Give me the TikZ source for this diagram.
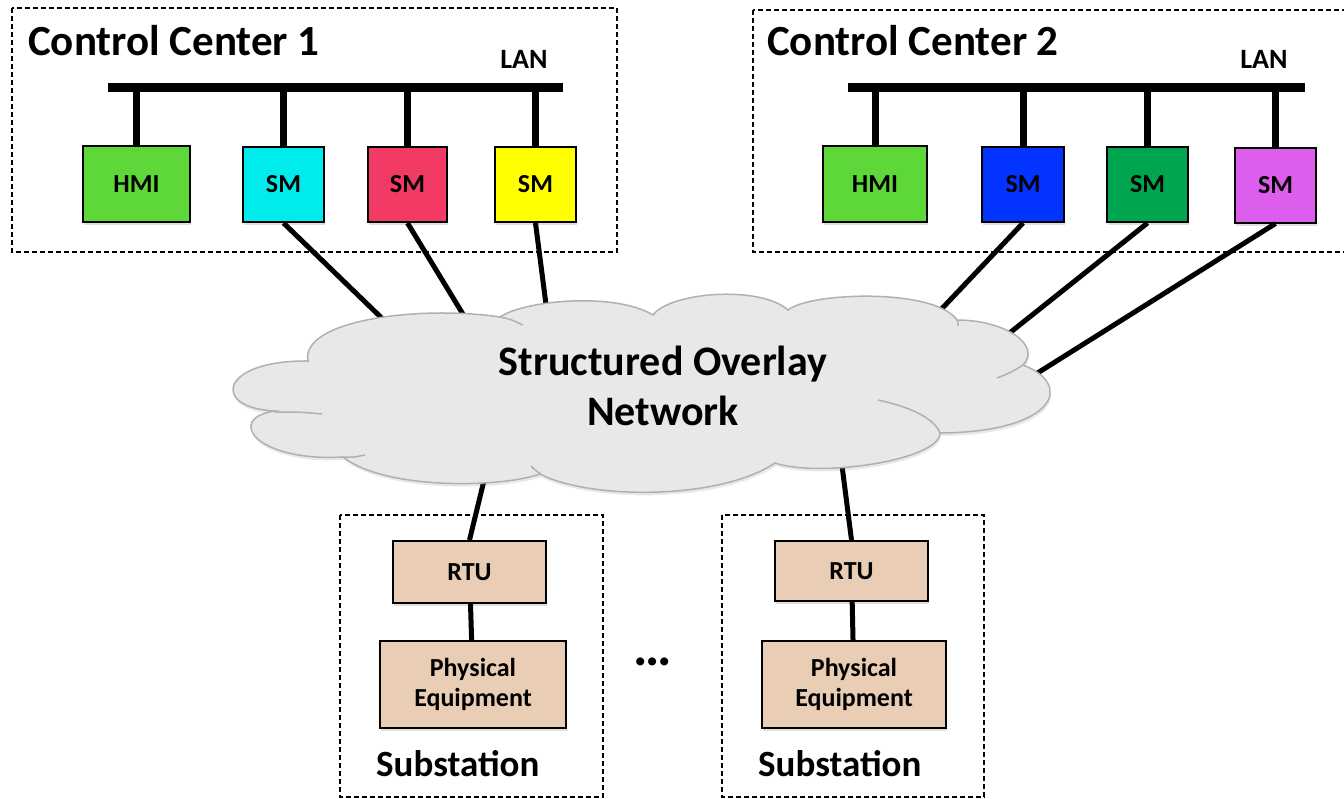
\documentclass[tikz,border=0pt]{standalone}
\usepackage{fontspec}
\setmainfont{Carlito}
\usetikzlibrary{shadows}
\definecolor{hmigreen}{RGB}{94,216,56}
\definecolor{smcyan}{RGB}{0,236,236}
\definecolor{smred}{RGB}{242,58,100}
\definecolor{smyellow}{RGB}{255,255,0}
\definecolor{smblue}{RGB}{3,51,255}
\definecolor{smgreen}{RGB}{0,166,79}
\definecolor{smmagenta}{RGB}{221,93,237}
\definecolor{beige}{RGB}{233,205,180}
\definecolor{cloudfill}{RGB}{232,232,232}
\definecolor{cloudedge}{RGB}{176,176,176}
\begin{document}
\begin{tikzpicture}[x=1pt,y=-1pt,
  devbox/.style={draw=black, line width=2pt, rectangle, inner sep=0pt,
    font=\fontsize{26}{30}\selectfont\bfseries, align=center,
    drop shadow={shadow xshift=1pt, shadow yshift=-3pt, opacity=0.25}},
  groupbox/.style={draw=black, line width=1.5pt, dash pattern=on 5pt off 3pt},
  bus/.style={line width=9pt},
  busdrop/.style={line width=7pt},
  link/.style={line width=5pt},
  cloudline/.style={draw=cloudedge, line width=1.5pt},
  title/.style={font=\fontsize{43}{48}\selectfont\bfseries, inner sep=0pt},
  lanlabel/.style={font=\fontsize{28}{32}\selectfont\bfseries, inner sep=0pt},
  sublabel/.style={font=\fontsize{37}{42}\selectfont\bfseries, inner sep=0pt},
]
\useasboundingbox (0,0) rectangle (1344,798);

% dashed group outlines
\draw[groupbox] (12,8) rectangle (617,252);
\draw[groupbox] (753,10) rectangle (1360,252);
\draw[groupbox] (340,515) rectangle (603,797);
\draw[groupbox] (722,515) rectangle (984,797);

% group titles
\node[title, anchor=base west] (cc1) at (28,55) {Control Center 1};
\node[title, anchor=base west] (cc2) at (767,55) {Control Center 2};
\node[lanlabel, anchor=base] (lan1) at (524,68) {LAN};
\node[lanlabel, anchor=base] (lan2) at (1264,68) {LAN};

% LAN buses
\coordinate (busAl) at (108,87);
\coordinate (busAr) at (563,87);
\coordinate (busBl) at (848,87);
\coordinate (busBr) at (1305,87);
\draw[bus] (busAl) -- (busAr);
\draw[bus] (busBl) -- (busBr);

% control center devices
\node[devbox, fill=hmigreen, minimum width=107, minimum height=76] (hmiA) at (136.5,184) {HMI};
\node[devbox, fill=smcyan, minimum width=81, minimum height=75] (smA) at (283.5,184.5) {SM};
\node[devbox, fill=smred, minimum width=79, minimum height=75] (smB) at (407.5,184.5) {SM};
\node[devbox, fill=smyellow, minimum width=81, minimum height=75] (smC) at (535.5,184.5) {SM};
\node[devbox, fill=hmigreen, minimum width=104, minimum height=76] (hmiB) at (875,184) {HMI};
\node[devbox, fill=smblue, minimum width=82, minimum height=75] (smD) at (1023,184.5) {SM};
\node[devbox, fill=smgreen, minimum width=81, minimum height=75] (smE) at (1147.5,184.5) {SM};
\node[devbox, fill=smmagenta, minimum width=81, minimum height=75] (smF) at (1275.5,185) {SM};

% drops from the buses
\foreach \n in {hmiA,smA,smB,smC}
  \draw[busdrop] (\n.north) -- (\n.north |- busAl);
\foreach \n in {hmiB,smD,smE,smF}
  \draw[busdrop] (\n.north) -- (\n.north |- busBl);

% substation devices
\node[devbox, fill=beige, minimum width=153, minimum height=62] (rtuA) at (469.5,572) {RTU};
\node[devbox, fill=beige, minimum width=186, minimum height=87] (peA) at (473,684.5) {Physical\\Equipment};
\node[devbox, fill=beige, minimum width=153, minimum height=60] (rtuB) at (851.5,571) {RTU};
\node[devbox, fill=beige, minimum width=184, minimum height=87] (peB) at (854,684.5) {Physical\\Equipment};
\draw[link] (rtuA) -- (peA);
\draw[link] (rtuB) -- (peB);

% links into the overlay (ends tucked under the cloud)
\coordinate (inA) at (392,328);
\coordinate (inB) at (472,329);
\coordinate (inC) at (548,320);
\coordinate (inD) at (933,318);
\coordinate (inE) at (997,343);
\coordinate (inF) at (1020,384);
\coordinate (outA) at (489,460);
\coordinate (outB) at (840,450);
\draw[link] (smA.south) -- (inA);
\draw[link] (smB.south) -- (inB);
\draw[link] (smC.south) -- (inC);
\draw[link] (smD.south) -- (inD);
\draw[link] (smE.south) -- (inE);
\draw[link] (smF.south) -- (inF);
\draw[link] (outA) -- (rtuA.north);
\draw[link] (outB) -- (rtuB.north);

% overlay cloud: outline of lobes, clockwise from the upper left
\path[cloudline, fill=cloudfill,
      drop shadow={shadow xshift=1pt, shadow yshift=-3pt, opacity=0.18}]
  (308,361) .. controls (300,320) and (420,305) .. (500,317)
            .. controls (525,300) and (615,292) .. (653,315)
            .. controls (670,292) and (760,285) .. (788,310)
            .. controls (810,292) and (935,288) .. (957,320)
            .. controls (1005,320) and (1042,345) .. (1023,365)
            .. controls (1075,385) and (1055,432) .. (940,433)
            .. controls (940,460) and (820,478) .. (775,463)
            .. controls (720,500) and (590,500) .. (540,474)
            .. controls (500,488) and (385,490) .. (343,457)
            .. controls (255,462) and (225,418) .. (275,411)
            .. controls (210,408) and (220,360) .. (308,361) -- cycle;
% inner arcs where lobes overlap
\draw[cloudline] (500,317) .. controls (510,319) .. (523,325);
\draw[cloudline] (1023,365) .. controls (1012,372) .. (997,378);
\draw[cloudline] (878,400) .. controls (915,408) and (935,420) .. (940,433);
\draw[cloudline] (343,457) .. controls (352,457.5) .. (365,455);
\draw[cloudline] (275,412) .. controls (300,412) .. (322,414);
\draw[cloudline] (541,474) .. controls (536,471) .. (531,466);
\draw[cloudline] (957,320) .. controls (958,322) .. (958,326);

\node[font=\fontsize{42}{50}\selectfont\bfseries, align=center, inner sep=0pt] (overlay) at (663,386) {Structured Overlay\\Network};

% substation labels
\node[sublabel, anchor=base west] (subA) at (376,776) {Substation};
\node[sublabel, anchor=base west] (subB) at (758,776) {Substation};
\node[font=\fontsize{54}{58}\selectfont\bfseries, inner sep=0pt] (more) at (653,662) {…};
\end{tikzpicture}
\end{document}
